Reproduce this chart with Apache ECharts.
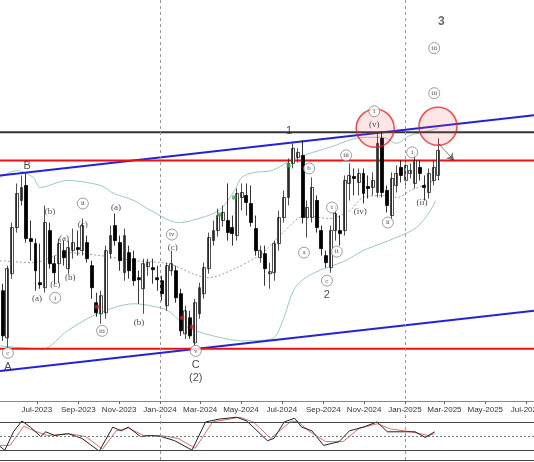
<!DOCTYPE html>
<html><head><meta charset="utf-8">
<script src="https://cdn.jsdelivr.net/npm/echarts@6/dist/echarts.min.js"></script>
<style>html,body{margin:0;padding:0;background:#fff;overflow:hidden}#c{width:534px;height:462px}</style>
</head><body><div id="c"></div>
<script>
// Weekly candles, values read as vertical chart level (axis inverted, no price labels in source)
const startDate = Date.UTC(2023,4,11);
const opens  = [290,337,273,227,200,185,238,243,282,287,230,263,263,250,268,250,247,250,242,265,302,313,312,253,225,242,272,252,258,277,288,266,267,277,280,305,270,270,293,333,317,342,313,293,268,240,230,220,220,227,235,197,195,203,228,257,253,273,272,243,217,197,163,157,155,217,217,200,230,255,267,230,230,230,183,176,182,173,186,187,192,138,190,215,185,167,180,173,183,167,185,192,180,175];
const closes = [335,268,227,193,187,238,241,270,284,222,263,272,243,257,247,242,249,225,258,287,312,295,250,235,240,260,235,270,280,279,263,262,269,279,293,265,263,297,330,310,335,302,287,267,237,230,215,212,232,233,193,192,202,222,250,250,268,271,243,217,197,163,148,152,217,207,187,227,248,262,230,213,233,180,175,178,173,193,188,180,143,192,205,178,173,175,165,170,160,173,187,173,167,150];
const lows   = [340,348,278,232,205,242,260,290,288,292,268,283,282,265,273,258,255,255,262,298,316,323,318,258,245,270,280,278,285,303,313,275,283,290,300,310,275,302,335,338,338,345,318,298,273,245,236,226,240,245,240,210,215,226,255,262,285,288,280,250,222,205,168,162,223,237,222,232,255,267,272,240,245,235,200,195,195,203,198,195,197,197,212,220,192,182,185,178,188,180,200,198,185,180];
const highs  = [283,265,222,183,175,173,220,238,243,205,222,255,238,240,240,228,230,218,235,260,292,290,245,225,213,235,228,245,250,270,258,258,258,265,275,262,250,265,288,305,310,298,282,262,232,220,208,205,183,215,188,183,183,185,215,245,245,262,240,210,190,158,143,148,140,200,177,195,225,250,225,205,215,175,163,168,168,168,175,172,132,132,185,172,165,160,160,163,152,160,175,168,160,138];

// Bollinger-style envelope: [weekIndex, level]
const bbUpper = [[-0.6,177],[3,170],[6.5,177],[8,187],[13.8,180],[20.9,185],[23.7,193],[28,200],[31.6,210],[37.5,222],[40.3,220],[46.1,210],[49.5,190],[51,177],[53.8,172],[57.5,170],[62.4,158],[69.8,147],[76.9,137],[81.2,137],[84,143],[87,135],[91.3,130],[93,128]];
const bbMid = [[-0.6,260],[6.5,262],[13.8,252],[20.9,255],[28,260],[35.3,263],[43.9,277],[49.5,268],[55.3,253],[59.6,233],[64.6,215],[69.8,218],[74.1,210],[76.9,197],[81.2,195],[84.2,197],[87,190],[89.8,185],[93,178]];
const bbLower = [[-0.6,345],[8.6,348],[13.8,330],[20.2,313],[28,303],[31.6,305],[35.3,310],[39.6,327],[46.7,337],[51,340],[57.5,338],[59.6,322],[62.4,287],[66.1,273],[73.2,260],[76.9,250],[84,237],[88.3,227],[91.3,210],[92.4,200]];

// Stochastic oscillator: [weekIndex, value]
const stochK = [[-0.6,29],[0.45,21],[2.3,60],[4.1,83],[5.9,70],[8.1,50],[9.2,60],[11.1,52],[14,56],[16.9,46],[20.6,19],[23.5,70],[25.3,62],[26.8,70],[29.4,50],[31.6,52],[33.8,50],[36.7,41],[40.4,21],[43.3,81],[46.2,87],[49.9,91],[52.1,83],[56.5,41],[57.9,46],[60.1,81],[62.3,89],[63.8,70],[66,62],[68.5,31],[71.8,39],[74,62],[77,70],[79.9,81],[82.1,60],[85.8,60],[88,60],[90.2,48],[92.2,60]];
const stochD = [[-0.6,31],[1.55,31],[4.5,72],[6.7,62],[9.6,52],[14,56],[17.7,50],[21.3,23],[24.2,62],[26.8,68],[30.1,52],[33.8,52],[37.4,46],[41.1,25],[44.8,81],[50.6,91],[53.5,81],[57.2,46],[61.6,83],[63.1,81],[65.3,62],[68.9,39],[72.6,39],[76.2,68],[79.9,77],[82.8,66],[87.2,60],[90.9,52],[92.2,56]];

const viewStart = -0.58, viewEnd = 113.4;
const resistance = 132, redUpper = 160, redLower = 348;
const channelTop = [[viewStart,175],[viewEnd,115]];
const channelBot = [[viewStart,370],[viewEnd,310]];
const circles = [[79.5,128],[92.9,126]];
const arrowPts = [[93.0,143],[96.3,160]];
const greenMarks = [[61.0,165],[46.2,214],[49.4,197]];
const redMarks = [[20.1,306],[38.3,317],[40.4,326]];
// labels: [weekIndex, level, text, kind: 1 circled, 2 big, 3 bold, 0 plain]
const labels = [[1.1,352,'c',1],[1.1,366,'A',2],[5.2,166,'B',2],[7.3,298,'(a)',0],[10.1,211,'(b)',0],[11.2,284,'(c)',0],[11.2,297,'i',1],[13.1,238,'(a)',0],[14.4,277,'(b)',0],[17.1,203,'ii',1],[17.1,224,'(c)',0],[21.2,330,'iii',1],[24.2,207,'(a)',0],[29.1,322,'(b)',0],[36.1,234,'iv',1],[36.3,247,'(c)',0],[41.2,350,'v',1],[41.2,364,'C',2],[41.2,377,'(2)',2],[61.1,131,'1',2],[65.4,168,'b',1],[64.3,252,'a',1],[69.2,280,'c',1],[69.2,294,'2',2],[70.3,207,'i',1],[71.3,251,'ii',1],[73.3,155,'iii',1],[76.3,211,'(iv)',0],[79.3,124,'(v)',0],[79.3,111,'i',1],[82.2,222,'ii',1],[87.4,152,'i',1],[89.5,202,'(ii)',0],[93.6,22,'3',3],[92.1,48,'iii',1],[92.1,93,'iii',1]];
const tickDates = ['2023-05-01','2023-07-01','2023-09-01','2023-11-01','2024-01-01','2024-03-01','2024-05-01','2024-07-01','2024-09-01','2024-11-01','2025-01-01','2025-03-01','2025-05-01','2025-07-01'];
const yearLines = ['2024-01-01','2025-01-01'];

const W = 7*86400000;
const t = i => startDate + i*W;
const pts = a => a.map(p => [t(p[0]), p[1]]);
const months = ['Jan','Feb','Mar','Apr','May','Jun','Jul','Aug','Sep','Oct','Nov','Dec'];
const tickMs = tickDates.map(d => Date.parse(d+'T00:00:00Z'));
const xmin = t(viewStart), xmax = t(viewEnd);

const candles = opens.map((o,i) => [t(i), o, closes[i], lows[i], highs[i]]);
const vlines = yearLines.map(d => ({xAxis: Date.parse(d+'T00:00:00Z')}));

const labelData = labels.map(l => {
  const kind = l[3];
  return {
    value: [t(l[0]), l[1]],
    symbol: 'circle',
    symbolSize: kind === 1 ? 11 : 1,
    itemStyle: {color: kind === 1 ? '#fff' : 'rgba(0,0,0,0)', borderColor: kind === 1 ? '#666' : 'rgba(0,0,0,0)', borderWidth:0.8},
    label: {show:true, position:'inside', formatter: l[2],
      fontFamily: kind === 2 || kind === 3 ? 'Liberation Sans' : 'Liberation Serif',
      fontSize: kind === 3 ? 12 : kind === 2 ? 11 : kind === 1 ? 7 : 9,
      fontWeight: kind === 3 ? 'bold' : 'normal',
      color: kind === 3 ? '#444' : '#222'}
  };
});

const chart = echarts.init(document.getElementById('c'), null, {renderer:'canvas'});
chart.setOption({
  animation:false,
  backgroundColor:'#fff',
  grid:[{left:0,right:0,top:0,height:401,outerBoundsMode:'none',containLabel:false},
        {left:0,right:0,top:413,height:47,outerBoundsMode:'none',containLabel:false}],
  xAxis:[
    {type:'time', gridIndex:0, min:xmin, max:xmax, show:false},
    {type:'time', gridIndex:1, min:xmin, max:xmax, show:false},
    {type:'value', gridIndex:0, position:'bottom', min:xmin, max:xmax, splitLine:{show:false},
     axisLine:{show:true,lineStyle:{color:'#888'}},
     axisTick:{show:true, customValues: tickMs, length:3, lineStyle:{color:'#666'}},
     axisLabel:{show:true, customValues: tickMs, fontSize:8, color:'#333', fontFamily:'Liberation Sans', margin:5, hideOverlap:false,
       formatter: v => { const d = new Date(v); return months[d.getUTCMonth()]+'-'+d.getUTCFullYear(); }}}
  ],
  yAxis:[
    {type:'value', gridIndex:0, inverse:true, min:0, max:400, show:false, splitLine:{show:false}},
    {type:'value', gridIndex:1, min:0, max:100, show:false, splitLine:{show:false}}
  ],
  series:[
    {type:'line', data:pts(bbUpper), symbol:'none', lineStyle:{color:'#9cc8c4', width:1}, smooth:0.3, z:1},
    {type:'line', data:pts(bbLower), symbol:'none', lineStyle:{color:'#9cc8c4', width:1}, smooth:0.3, z:1},
    {type:'line', data:pts(bbMid), symbol:'none', lineStyle:{color:'#888', width:0.8, type:[2,2]}, smooth:0.3, z:1,
      markLine:{silent:true, symbol:'none', label:{show:false}, lineStyle:{color:'#999', type:[3,3], width:1}, data: vlines}},
    {type:'line', data:pts(channelTop), symbol:'none', lineStyle:{color:'#2222dd', width:2}, z:3},
    {type:'line', data:pts(channelBot), symbol:'none', lineStyle:{color:'#2222dd', width:2}, z:3},
    {type:'line', data:[[xmin,redUpper],[xmax,redUpper]], symbol:'none', lineStyle:{color:'#ee1111', width:2}, z:3},
    {type:'line', data:[[xmin,redLower],[xmax,redLower]], symbol:'none', lineStyle:{color:'#ee1111', width:2}, z:3},
    {type:'line', data:[[xmin,resistance],[xmax,resistance]], symbol:'none', lineStyle:{color:'#333', width:2}, z:3},
    {type:'candlestick', data:candles, barWidth:3.4, z:4,
     itemStyle:{color:'#000', borderColor:'#000', color0:'#fff', borderColor0:'#222', borderWidth:0.8}},
    {type:'scatter', data:pts(circles), symbol:'circle', symbolSize:38, z:5,
     itemStyle:{color:'rgba(255,80,80,0.18)', borderColor:'#ee2222', borderWidth:1.5}},
    {type:'lines', coordinateSystem:'cartesian2d', data:[{coords: pts(arrowPts)}], symbol:['none','arrow'], symbolSize:7, lineStyle:{color:'#000', width:1}, z:6},
    {type:'scatter', data:pts(greenMarks), symbol:'rect', symbolSize:4, itemStyle:{color:'#33aa33'}, z:6},
    {type:'scatter', data:pts(redMarks), symbol:'rect', symbolSize:4, itemStyle:{color:'#cc2222'}, z:6},
    {type:'scatter', data:labelData, z:7},
    {type:'line', xAxisIndex:1, yAxisIndex:1, data:pts(stochD), symbol:'none', lineStyle:{color:'#d87070', width:1}, z:2,
      markLine:{silent:true, symbol:'none', label:{show:false}, data:[
        {yAxis:80, lineStyle:{color:'#444', type:'solid', width:1}},
        {yAxis:50, lineStyle:{color:'#777', type:[2,2], width:1}},
        {yAxis:20, lineStyle:{color:'#444', type:'solid', width:1}},
        {yAxis:0, lineStyle:{color:'#444', type:'solid', width:1}},
        ...vlines.map(v => ({xAxis:v.xAxis, lineStyle:{color:'#999', type:[3,3], width:1}}))]}},
    {type:'line', xAxisIndex:1, yAxisIndex:1, data:pts(stochK), symbol:'none', lineStyle:{color:'#222', width:1}, z:3}
  ]
});
</script></body></html>
